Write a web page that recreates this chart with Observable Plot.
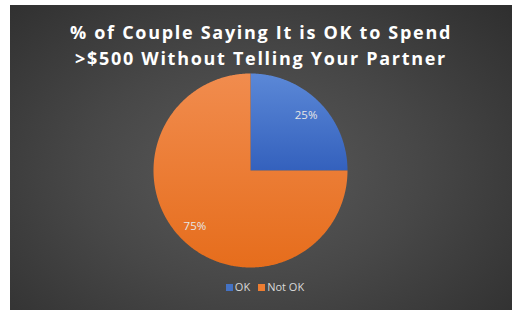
<!DOCTYPE html>
<html>
<head>
<meta charset="utf-8">
<script src="https://cdn.jsdelivr.net/npm/d3@7"></script>
<script src="https://cdn.jsdelivr.net/npm/@observablehq/plot@0.6"></script>
<style>
  html, body { margin: 0; padding: 0; background: #fff; }
  #frame {
    position: absolute; left: 10px; top: 5px; width: 502px; height: 305px;
    background: radial-gradient(ellipse 75% 85% at 48% 55%, #5a5a5a 0%, #474747 45%, #2c2c2c 100%);
    font-family: "Open Sans", sans-serif; overflow: hidden;
  }
  #title {
    position: absolute; left: 0; top: 14px; width: 502px; text-align: center;
    color: #fff; font-weight: bold; font-size: 18px; line-height: 26px; letter-spacing: 1.7px;
  }
  #plot { position: absolute; left: 0; top: 60px; }
  #legend {
    position: absolute; left: 4px; top: 274px; width: 502px; text-align: center;
    color: #d9d9d9; font-size: 11px;
  }
  #legend span.sw { display: inline-block; width: 7px; height: 7px; margin-right: 2px; vertical-align: 0px; }
  #legend span.it { margin: 0 4px; }
</style>
</head>
<body>
<div id="frame">
  <div id="title">% of Couple Saying It is OK to Spend<br>&gt;$500 Without Telling Your Partner</div>
  <div id="plot"></div>
  <div id="legend"></div>
</div>
<script>
const categories = ["OK", "Not OK"];
const values = [25, 75];
const labels = ["25%", "75%"];
const colors = ["#4472C4", "#ED7D31"];
const gradients = [["#5b88d7", "#3461bd"], ["#f18c4e", "#e66d1c"]];

const pie = d3.pie().sort(null).value(d => d.value)(
  categories.map((c, i) => ({category: c, value: values[i], label: labels[i], i}))
);

// slice polygons in a unit coordinate system (y down)
function slicePolygon(a0, a1) {
  const pts = [[0, 0]];
  const n = Math.max(8, Math.ceil((a1 - a0) / 0.01));
  for (let k = 0; k <= n; ++k) {
    const a = a0 + (a1 - a0) * k / n;
    pts.push([Math.sin(a), -Math.cos(a)]);
  }
  pts.push([0, 0]);
  return pts;
}
const slices = pie.map(p => ({
  type: "Feature",
  properties: {category: p.data.category, i: p.data.i},
  geometry: {type: "Polygon", coordinates: [slicePolygon(p.startAngle, p.endAngle)]}
}));
const outline = {type: "Polygon", coordinates: [slicePolygon(0, 2 * Math.PI)]};
const labelPts = pie.map(p => {
  const a = (p.startAngle + p.endAngle) / 2;
  return {x: 0.81 * Math.sin(a), y: -0.81 * Math.cos(a), label: p.data.label};
});

const chart = Plot.plot({
  width: 480, height: 210,
  marginLeft: 0, marginRight: 0, marginTop: 0, marginBottom: 0,
  projection: {type: "identity", domain: outline, inset: 8},
  style: {background: "transparent", overflow: "visible"},
  marks: [
    Plot.geo(slices, {fill: d => `url(#grad${d.properties.i})`, stroke: "none"}),
    Plot.text(labelPts, {x: "x", y: "y", text: "label", fill: "#e6e6e6",
      fontSize: 11.5, fontFamily: "Open Sans, sans-serif"})
  ]
});

// gradient definitions
const ns = "http://www.w3.org/2000/svg";
const defs = document.createElementNS(ns, "defs");
gradients.forEach((g, i) => {
  const lg = document.createElementNS(ns, "linearGradient");
  lg.setAttribute("id", "grad" + i);
  lg.setAttribute("x1", "0"); lg.setAttribute("y1", "0");
  lg.setAttribute("x2", "0"); lg.setAttribute("y2", "1");
  [[0, g[0]], [1, g[1]]].forEach(([o, c]) => {
    const s = document.createElementNS(ns, "stop");
    s.setAttribute("offset", o); s.setAttribute("stop-color", c);
    lg.appendChild(s);
  });
  defs.appendChild(lg);
});
chart.insertBefore(defs, chart.firstChild);
document.getElementById("plot").appendChild(chart);

// legend
const leg = document.getElementById("legend");
categories.forEach((c, i) => {
  const it = document.createElement("span");
  it.className = "it";
  it.innerHTML = `<span class="sw" style="background:${colors[i]}"></span>${c}`;
  leg.appendChild(it);
});
</script>
</body>
</html>
